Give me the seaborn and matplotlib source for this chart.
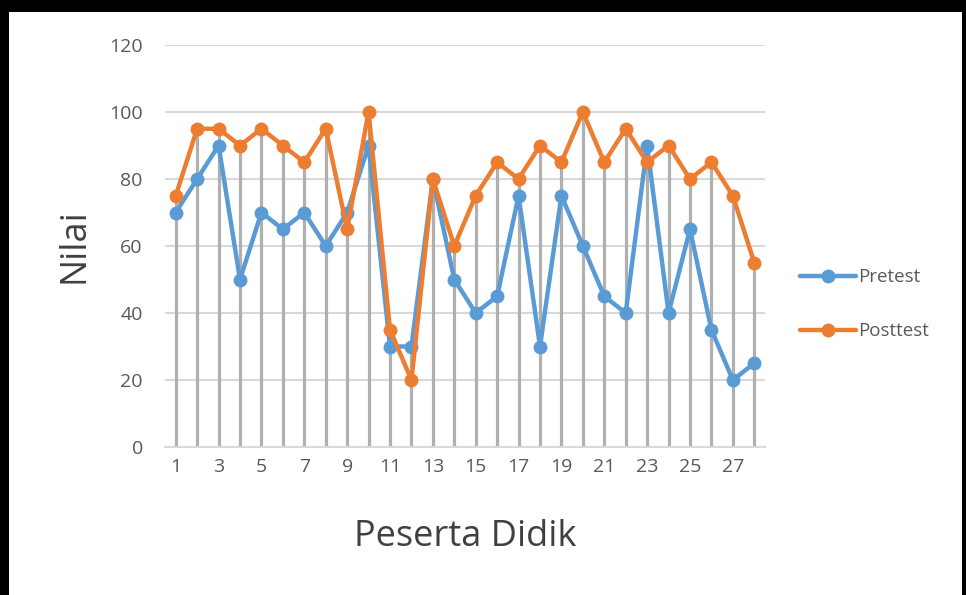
import numpy as np
import pandas as pd
import matplotlib.pyplot as plt
import seaborn as sns
from matplotlib.patches import Rectangle

# nilai per peserta didik
peserta = list(range(1, 29))
pretest = [70, 80, 90, 50, 70, 65, 70, 60, 70, 90, 30, 30, 80, 50,
           40, 45, 75, 30, 75, 60, 45, 40, 90, 40, 65, 35, 20, 25]
posttest = [75, 95, 95, 90, 95, 90, 85, 95, 65, 100, 35, 20, 80, 60,
            75, 85, 80, 90, 85, 100, 85, 95, 85, 90, 80, 85, 75, 55]
y_ticks = [0, 20, 40, 60, 80, 100, 120]
x_ticks = list(range(1, 29, 2))

df = pd.DataFrame({'Peserta': peserta, 'Pretest': pretest, 'Posttest': posttest})
df_long = df.melt(id_vars='Peserta', var_name='Tes', value_name='Nilai')

sns.set_style('white')
plt.rcParams['font.family'] = ['Open Sans', 'DejaVu Sans']

fig = plt.figure(figsize=(9.66, 5.95), dpi=100)
fig.patch.set_facecolor('black')
# white inner area, black frame on top/left/right
fig.add_artist(Rectangle((9 / 966, 0), (962 - 9) / 966, (595 - 12) / 595,
                         transform=fig.transFigure, facecolor='white',
                         edgecolor='none', zorder=0))
ax = fig.add_axes([165 / 966, (595 - 447) / 595, 600 / 966, (447 - 45) / 595])
ax.set_facecolor('none')

# drop lines from the higher value to zero
top = df[['Pretest', 'Posttest']].max(axis=1)
ax.vlines(df['Peserta'], 0, top, color='#b0b0b0', lw=2.3, zorder=1)

sns.lineplot(ax=ax, data=df_long, x='Peserta', y='Nilai', hue='Tes',
             palette={'Pretest': '#5b9bd5', 'Posttest': '#ed7d31'},
             marker='o', markersize=10, markeredgewidth=0, lw=3.2, zorder=3)

ax.set_xlim(0.5, 28.5)
ax.set_ylim(0, 120)
ax.set_yticks(y_ticks)
ax.set_xticks(x_ticks)
ax.yaxis.grid(True, color='#d9d9d9', lw=1.5, zorder=0)
ax.set_axisbelow(True)
for s in ['top', 'right', 'left']:
    ax.spines[s].set_visible(False)
ax.spines['bottom'].set_color('#d9d9d9')
ax.spines['bottom'].set_linewidth(1.5)
ax.tick_params(axis='y', length=0, pad=16, labelsize=14, labelcolor='#595959')
ax.tick_params(axis='x', length=0, pad=8, labelsize=14, labelcolor='#595959')

ax.set_xlabel('Peserta Didik', fontsize=26, color='#404040', labelpad=31)
ax.set_ylabel('Nilai', fontsize=26, color='#404040', labelpad=12)

ax.legend(loc='center left', bbox_to_anchor=(1.03, 0.355), frameon=False,
          fontsize=13.5, labelcolor='#595959', handlelength=3.0, handletextpad=0.1,
          labelspacing=1.9, title=None)

fig.savefig('out.png', dpi=100, facecolor=fig.get_facecolor())
